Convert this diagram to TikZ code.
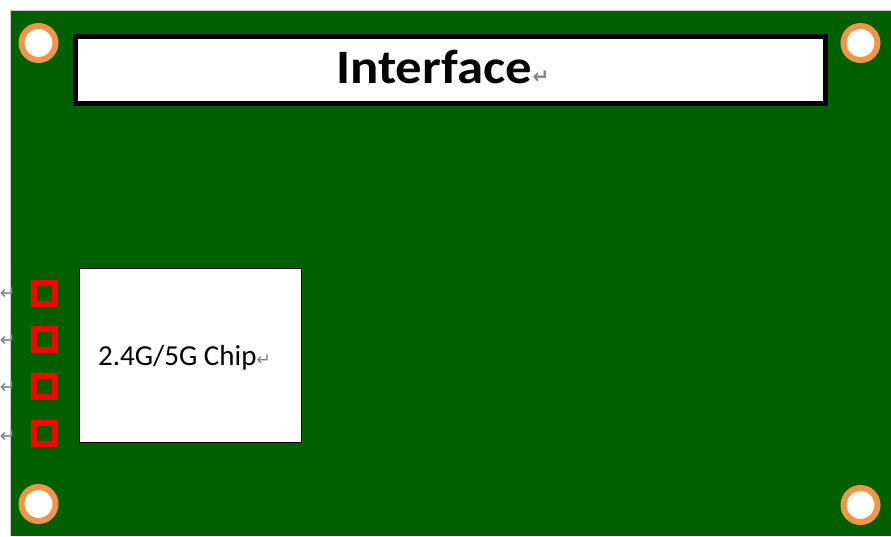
\documentclass[tikz,border=0pt]{standalone}
\usepackage{fontspec}
\setmainfont{Carlito}
\newfontfamily\widefont[FakeStretch=1.10]{Carlito}
\newfontfamily\symfont{DejaVu Sans}
\definecolor{board}{RGB}{0,96,0}
\definecolor{ring}{RGB}{240,150,70}
\definecolor{pmark}{RGB}{130,130,130}
\newcommand{\pmk}[1]{{\symfont\fontsize{#1}{#1}\selectfont\color{pmark}↵}}
\begin{document}
\begin{tikzpicture}[x=1pt,y=-1pt,
  hole/.style={circle, draw=ring, fill=white, line width=6pt, minimum size=34pt, inner sep=0pt},
  pad/.style={rectangle, draw=red, line width=6pt, minimum size=21pt, inner sep=0pt},
  whitebox/.style={rectangle, draw=black, fill=white, inner sep=0pt}]
\useasboundingbox (0,0) rectangle (891,536);
\fill[white] (0,0) rectangle (891,536);
\fill[board] (10,10) rectangle (891,536);
\draw[black!20, line width=0.6pt] (10,536) -- (10,10) -- (891,10);
% mounting holes
\node[hole] (h1) at (38.5,43) {};
\node[hole] (h2) at (860.5,43) {};
\node[hole] (h3) at (38.5,504) {};
\node[hole] (h4) at (860.5,505) {};
% interface box
\node[whitebox, line width=5pt, minimum width=750pt, minimum height=67pt] (iface) at (450.5,69.5) {};
\node[anchor=base west, inner sep=0pt] (iftext) at (336,83)
  {\widefont\fontsize{48}{48}\selectfont\bfseries Interface\hspace{1pt}\pmk{20}};
% chip
\node[whitebox, line width=1pt, minimum width=222pt, minimum height=174pt] (chip) at (190,355) {};
\node[anchor=base west, inner sep=0pt] (chiptext) at (98,365)
  {\fontsize{29}{29}\selectfont 2.4G/5G Chip\pmk{17}};
% pads
\node[pad] (p1) at (44.5,293.5) {};
\node[pad] (p2) at (44.5,339.5) {};
\node[pad] (p3) at (44.5,386) {};
\node[pad] (p4) at (44.5,433.5) {};
% paragraph marks at left edge
\node[anchor=base east, inner sep=0pt] (m1) at (16,299) {\pmk{19}};
\node[anchor=base east, inner sep=0pt] (m2) at (16,346) {\pmk{19}};
\node[anchor=base east, inner sep=0pt] (m3) at (16,393) {\pmk{19}};
\node[anchor=base east, inner sep=0pt] (m4) at (16,442) {\pmk{19}};
\end{tikzpicture}
\end{document}
